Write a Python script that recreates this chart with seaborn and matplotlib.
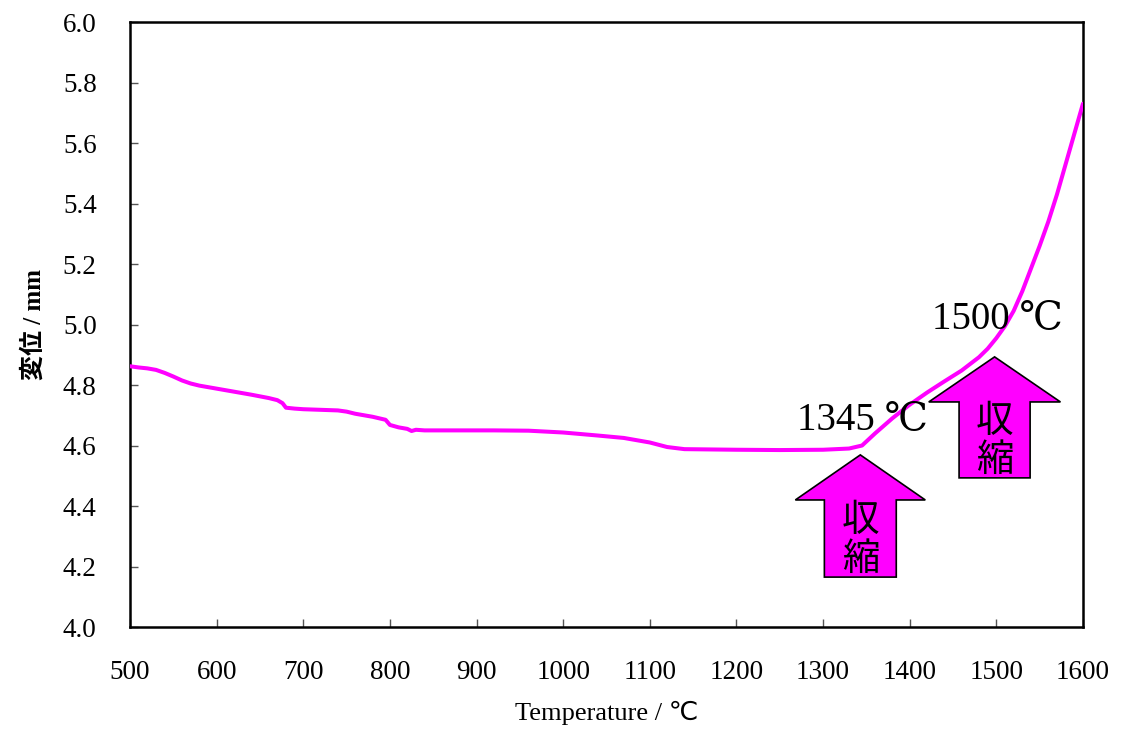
import numpy as np
import pandas as pd
import seaborn as sns
import matplotlib
matplotlib.use("Agg")
import matplotlib.pyplot as plt
from matplotlib.patches import Polygon

temperature = [500, 510, 520, 530, 540, 550, 560, 570, 580, 600, 620, 640, 660, 670, 676, 680,
               690, 700, 720, 740, 750, 760, 780, 795, 800, 810, 820, 825, 830, 840, 880, 920,
               960, 1000, 1040, 1070, 1100, 1120, 1140, 1200, 1250, 1300, 1330, 1345, 1360,
               1380, 1400, 1420, 1440, 1460, 1480, 1490, 1500, 1510, 1520, 1530, 1540, 1550,
               1560, 1570, 1580, 1590, 1600]
displacement = [4.862, 4.858, 4.855, 4.850, 4.840, 4.828, 4.815, 4.805, 4.798, 4.788, 4.778,
                4.768, 4.757, 4.750, 4.740, 4.725, 4.722, 4.720, 4.718, 4.716, 4.712, 4.705,
                4.695, 4.685, 4.668, 4.660, 4.655, 4.648, 4.652, 4.650, 4.650, 4.650, 4.649,
                4.643, 4.633, 4.625, 4.610, 4.595, 4.588, 4.586, 4.585, 4.586, 4.590, 4.600,
                4.640, 4.690, 4.735, 4.775, 4.812, 4.848, 4.892, 4.920, 4.955, 4.995, 5.045,
                5.110, 5.185, 5.260, 5.340, 5.430, 5.530, 5.630, 5.730]

x_ticks = [500, 600, 700, 800, 900, 1000, 1100, 1200, 1300, 1400, 1500, 1600]
y_ticks = [4.0, 4.2, 4.4, 4.6, 4.8, 5.0, 5.2, 5.4, 5.6, 5.8, 6.0]
annot_temps = ["1345 ℃", "1500 ℃"]
arrow_label = "収\n縮"

sns.set_style("white")
plt.rcParams['font.family'] = ['Liberation Serif', 'DejaVu Serif', 'Noto Sans CJK JP']
plt.rcParams['text.color'] = 'black'
plt.rcParams['axes.labelcolor'] = 'black'
plt.rcParams['xtick.color'] = 'black'
plt.rcParams['ytick.color'] = 'black'

fig = plt.figure(figsize=(11.22, 7.29), dpi=100)
ax = fig.add_axes([0.1159, 0.1399, 0.8493, 0.8299])

df = pd.DataFrame({"T": temperature, "D": displacement})
sns.lineplot(data=df, x="T", y="D", ax=ax, color="#FF00FF", linewidth=2.9, zorder=3)

ax.set_xlim(500, 1600)
ax.set_ylim(4.0, 6.0)
ax.set_xticks(x_ticks)
ax.set_yticks(y_ticks)
ax.set_xticklabels([str(t) for t in x_ticks], fontsize=19.5)
ax.set_yticklabels([f"{v:.1f}" for v in y_ticks], fontsize=19.5)
ax.tick_params(axis='x', direction='in', length=6, width=1.0, color='#555555',
               labelcolor='black', pad=24, bottom=True, top=False)
ax.tick_params(axis='y', direction='in', length=6, width=1.0, color='#555555',
               labelcolor='black', pad=24, left=True, right=False)
for s in ax.spines.values():
    s.set_visible(True)
    s.set_color('black')
    s.set_linewidth(1.8)

ax.set_xlabel("Temperature / ℃", fontsize=19, labelpad=11, color='black',
              family=['Liberation Serif', 'DejaVu Sans'])
ax.set_ylabel("変位 / mm", fontsize=18, fontweight='bold', labelpad=12, color='black',
              family=['Liberation Serif', 'Noto Sans CJK JP'])


def up_arrow(ax, xc, tip, head_base, bottom, head_w, shaft_w, label):
    pts = [(xc, tip), (xc + head_w / 2, head_base), (xc + shaft_w / 2, head_base),
           (xc + shaft_w / 2, bottom), (xc - shaft_w / 2, bottom),
           (xc - shaft_w / 2, head_base), (xc - head_w / 2, head_base)]
    ax.add_patch(Polygon(pts, closed=True, facecolor="#FF00FF", edgecolor="black",
                         linewidth=1.2, zorder=4))
    ax.text(xc, (head_base + bottom) / 2 - 0.005, label, ha='center', va='center',
            fontsize=27, color='black', family=['Noto Sans CJK JP'], linespacing=1.0,
            zorder=5)


up_arrow(ax, 1343, 4.569, 4.42, 4.165, 150, 83, arrow_label)
up_arrow(ax, 1498, 4.893, 4.744, 4.493, 152, 82, arrow_label)

ax.text(1346, 4.652, annot_temps[0], fontsize=28, ha='center', va='baseline', zorder=6,
        color='black', family=['Liberation Serif', 'DejaVu Serif'])
ax.text(1501, 4.985, annot_temps[1], fontsize=28, ha='center', va='baseline', zorder=6,
        color='black', family=['Liberation Serif', 'DejaVu Serif'])

fig.savefig("out.png", dpi=100, facecolor='white')
